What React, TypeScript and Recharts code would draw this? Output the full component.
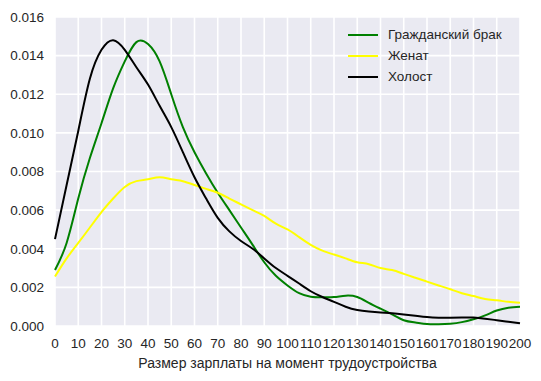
import { CartesianGrid, Line, LineChart, XAxis, YAxis } from "recharts";

const salary = [
  0, 5, 10, 15, 20, 25, 30, 35, 40, 45, 50, 55, 60, 65, 70, 75, 80, 85, 90, 95, 100,
  105, 110, 115, 120, 125, 130, 135, 140, 145, 150, 155, 160, 165, 170, 175, 180, 185, 190, 195, 200,
];

const civil = [
  0.0029, 0.0043, 0.0066, 0.0087, 0.0105, 0.0123, 0.0137, 0.0147, 0.0146, 0.0137, 0.012,
  0.0103, 0.009, 0.0079, 0.0069, 0.006, 0.0051, 0.0042, 0.0033, 0.0026, 0.0021,
  0.0017, 0.00152, 0.00149, 0.0015, 0.00157, 0.0015, 0.0012, 0.0009, 0.0006, 0.0003,
  0.00018, 0.0001, 0.00009, 0.00012, 0.0002, 0.00035, 0.00055, 0.0008, 0.00095, 0.001,
];

const married = [
  0.00256, 0.0035, 0.0043, 0.0051, 0.0059, 0.0066, 0.0072, 0.0075, 0.0076, 0.0077, 0.0076,
  0.0075, 0.0073, 0.0071, 0.0069, 0.0066, 0.0063, 0.006, 0.0057, 0.0053, 0.005,
  0.0046, 0.0042, 0.0039, 0.0037, 0.0035, 0.0033, 0.0032, 0.003, 0.0029, 0.0027,
  0.0025, 0.0023, 0.0021, 0.0019, 0.0017, 0.00155, 0.0014, 0.00133, 0.00125, 0.0012,
];

const single = [
  0.0045, 0.0073, 0.0101, 0.0128, 0.0143, 0.0148, 0.0143, 0.0134, 0.0125, 0.0114, 0.0103,
  0.009, 0.0077, 0.0066, 0.0056, 0.0049, 0.0044, 0.004, 0.0035, 0.003, 0.0026,
  0.0022, 0.0018, 0.0015, 0.00125, 0.001, 0.00083, 0.00075, 0.0007, 0.00066, 0.0006,
  0.00053, 0.00046, 0.00043, 0.00043, 0.00044, 0.00044, 0.00038, 0.0003, 0.00022, 0.00014,
];

const xTicks = [0, 10, 20, 30, 40, 50, 60, 70, 80, 90, 100, 110, 120, 130, 140, 150, 160, 170, 180, 190, 200];
const yTicks = [0, 0.002, 0.004, 0.006, 0.008, 0.01, 0.012, 0.014, 0.016];

const series = [
  { key: "civil", name: "Гражданский брак", color: "#008000" },
  { key: "married", name: "Женат", color: "#ffff00" },
  { key: "single", name: "Холост", color: "#000000" },
];

const data = salary.map((x, i) => ({
  x,
  civil: civil[i],
  married: married[i],
  single: single[i],
}));

const font = "'Liberation Sans', Arial, sans-serif";
const textColor = "#262626";

function LegendBox() {
  return (
    <div
      style={{
        position: "absolute",
        top: 24,
        left: 348,
        fontFamily: font,
        fontSize: 13.5,
        color: textColor,
      }}
    >
      {series.map((s) => (
        <div key={s.key} style={{ display: "flex", alignItems: "center", height: 21 }}>
          <div style={{ width: 30, height: 2, background: s.color, marginRight: 10 }} />
          <span>{s.name}</span>
        </div>
      ))}
    </div>
  );
}

export default function App() {
  return (
    <div style={{ position: "absolute", left: 0, top: 0, width: 541, height: 381, background: "#fff" }}>
      {/* seaborn-style plot background behind the svg */}
      <div
        style={{
          position: "absolute",
          left: 55,
          top: 17,
          width: 465,
          height: 309,
          background: "#eaeaf2",
        }}
      />
      <div style={{ position: "absolute", left: 0, top: 0 }}>
        <LineChart
          width={541}
          height={381}
          data={data}
          margin={{ top: 17, right: 21, bottom: 0, left: 0 }}
        >
          <CartesianGrid stroke="#ffffff" strokeWidth={1.6} horizontal vertical />
          <XAxis
            dataKey="x"
            type="number"
            domain={[0, 200]}
            ticks={xTicks}
            interval={0}
            axisLine={false}
            tickLine={false}
            tickSize={0}
            tickMargin={12}
            height={55}
            tick={{ fill: textColor, fontSize: 13.5, fontFamily: font }}
            label={{
              value: "Размер зарплаты на момент трудоустройства",
              position: "insideBottom",
              offset: 13,
              fill: textColor,
              fontSize: 14,
              fontFamily: font,
            }}
          />
          <YAxis
            type="number"
            domain={[0, 0.016]}
            ticks={yTicks}
            width={55}
            axisLine={false}
            tickLine={false}
            tickSize={0}
            tickMargin={11}
            tickFormatter={(v: number) => v.toFixed(3)}
            tick={{ fill: textColor, fontSize: 13.5, fontFamily: font }}
          />
          {series.map((s) => (
            <Line
              key={s.key}
              dataKey={s.key}
              name={s.name}
              type="natural"
              stroke={s.color}
              strokeWidth={2}
              dot={false}
              isAnimationActive={false}
            />
          ))}
        </LineChart>
      </div>
      <LegendBox />
    </div>
  );
}
